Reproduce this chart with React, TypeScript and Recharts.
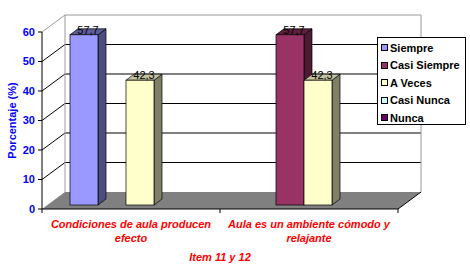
import { Bar, BarChart, CartesianGrid, XAxis, YAxis } from 'recharts';

const categories = ['Condiciones de aula producen efecto', 'Aula es un ambiente cómodo y relajante'];
const seriesNames = ['Siempre', 'Casi Siempre', 'A Veces', 'Casi Nunca', 'Nunca'];
const siempre = [57.7, 0];
const casiSiempre = [0, 57.7];
const aVeces = [42.3, 42.3];
const casiNunca = [0, 0];
const nunca = [0, 0];
const yTicks = [0, 10, 20, 30, 40, 50, 60];
const xTitle = 'Item 11 y 12';
const yTitle = 'Porcentaje (%)';

const seriesValues = [siempre, casiSiempre, aVeces, casiNunca, nunca];
const seriesKeys = ['siempre', 'casiSiempre', 'aVeces', 'casiNunca', 'nunca'];

const data = categories.map((name, i) => {
  const row: Record<string, any> = { name };
  seriesKeys.forEach((k, j) => {
    row[k] = seriesValues[j][i];
  });
  return row;
});

const colors = [
  { front: '#9999ff', side: '#4d4d80', top: '#5c5c99' },
  { front: '#993366', side: '#4d1a33', top: '#5c1f3d' },
  { front: '#ffffcc', side: '#808066', top: '#c4c4a0' },
  { front: '#ccffff', side: '#668080', top: '#99bfbf' },
  { front: '#660066', side: '#330033', top: '#3d003d' },
];

const FONT = 'Arial, "Liberation Sans", sans-serif';
const WALL_DX = 23;
const WALL_DY = -17;
const BAR_DX = 8;
const BAR_DY = -6;
const SHIFT_X = 8;
const SHIFT_Y = -4;

function Box3D(props: any) {
  const { x, y, width, height, dataKey, payload, c } = props;
  if (!height || height <= 0) return null;
  const v = payload ? payload[dataKey] : props.value;
  const x0 = x + SHIFT_X;
  const y0 = y + SHIFT_Y;
  const x1 = x0 + width;
  const y1 = y0 + height;
  return (
    <g>
      <polygon
        points={`${x1},${y0} ${x1 + BAR_DX},${y0 + BAR_DY} ${x1 + BAR_DX},${y1 + BAR_DY} ${x1},${y1}`}
        fill={c.side}
        stroke="#000"
        strokeWidth={0.7}
      />
      <polygon
        points={`${x0},${y0} ${x0 + BAR_DX},${y0 + BAR_DY} ${x1 + BAR_DX},${y0 + BAR_DY} ${x1},${y0}`}
        fill={c.top}
        stroke="#000"
        strokeWidth={0.7}
      />
      <rect x={x0} y={y0} width={width} height={height} fill={c.front} stroke="#000" strokeWidth={0.7} />
      <text
        x={x0 + width / 2 + 4}
        y={y0 - 1}
        textAnchor="middle"
        fontFamily={FONT}
        fontSize={11}
        fill="#000"
      >
        {String(v).replace('.', ',')}
      </text>
    </g>
  );
}

function gridLine(p: any) {
  const { x1, x2, y1 } = p;
  const top = typeof p.y === 'number' ? p.y : 32;
  const bottom = top + (typeof p.height === 'number' ? p.height : 177);
  const bx1 = x1 + WALL_DX;
  const bx2 = x2 + WALL_DX;
  const by = y1 + WALL_DY;
  if (Math.abs(y1 - bottom) < 1) {
    return (
      <g key={p.key}>
        <polygon points={`${x1},${y1} ${x2},${y1} ${bx2},${by} ${bx1},${by}`} fill="#808080" />
        <line x1={x2} y1={y1} x2={bx2} y2={by} stroke="#000" />
      </g>
    );
  }
  const isTop = Math.abs(y1 - top) < 1;
  const stroke = isTop ? '#9a9a9a' : '#000';
  return (
    <g key={p.key}>
      <line x1={x1} y1={y1} x2={bx1} y2={by} stroke={stroke} />
      <line x1={bx1} y1={by} x2={bx2} y2={by} stroke={stroke} />
      {isTop && (
        <>
          <line x1={bx1} y1={by} x2={bx1} y2={bottom + WALL_DY} stroke="#9a9a9a" />
          <line x1={bx2} y1={by} x2={bx2} y2={bottom + WALL_DY} stroke="#9a9a9a" />
        </>
      )}
    </g>
  );
}

function wrap(text: string, max: number) {
  const lines: string[] = [];
  let cur = '';
  text.split(' ').forEach((w) => {
    if (cur && (cur + ' ' + w).length > max) {
      lines.push(cur);
      cur = w;
    } else {
      cur = cur ? cur + ' ' + w : w;
    }
  });
  if (cur) lines.push(cur);
  return lines;
}

function CategoryTick(props: any) {
  const { x, y, payload, index } = props;
  const half = payload && typeof payload.offset === 'number' ? payload.offset : 89;
  const lines = wrap(String(payload.value), 28);
  return (
    <g>
      <line x1={x - half} y1={y} x2={x - half} y2={y + 4} stroke="#000" />
      {index === categories.length - 1 && <line x1={x + half} y1={y} x2={x + half} y2={y + 4} stroke="#000" />}
      <text
        x={x}
        y={y + 19}
        textAnchor="middle"
        fontFamily={FONT}
        fontSize={11}
        fontStyle="italic"
        fontWeight="bold"
        fill="#ff0000"
      >
        {lines.map((l, i) => (
          <tspan key={i} x={x} dy={i === 0 ? 0 : 14}>
            {l}
          </tspan>
        ))}
      </text>
    </g>
  );
}

export default function App() {
  return (
    <div style={{ position: 'absolute', left: 0, top: 0, width: 470, height: 272, background: '#fff' }}>
      <BarChart
        width={470}
        height={272}
        data={data}
        margin={{ top: 32, right: 72, left: 0, bottom: 0 }}
        barCategoryGap={20}
        barGap={0}
      >
        <CartesianGrid vertical={false} horizontal={gridLine} />
        <XAxis
          dataKey="name"
          height={63}
          interval={0}
          tickLine={false}
          tickSize={0}
          tickMargin={0}
          axisLine={{ stroke: '#000' }}
          tick={<CategoryTick />}
          label={{
            value: xTitle,
            position: 'insideBottom',
            offset: 11,
            fill: '#ff0000',
            fontSize: 11,
            fontStyle: 'italic',
            fontWeight: 'bold',
            fontFamily: FONT,
          }}
        />
        <YAxis
          domain={[0, 60]}
          ticks={yTicks}
          width={42}
          tickSize={4}
          tickMargin={3}
          axisLine={{ stroke: '#000' }}
          tickLine={{ stroke: '#000' }}
          tick={{ fill: '#0000ff', fontSize: 11, fontWeight: 'bold', fontFamily: FONT }}
          label={{
            value: yTitle,
            angle: -90,
            position: 'insideLeft',
            offset: 12,
            fill: '#0000ff',
            fontSize: 11,
            fontWeight: 'bold',
            fontFamily: FONT,
            style: { textAnchor: 'middle' },
          }}
        />
        {seriesKeys.map((k, i) => (
          <Bar
            key={k}
            dataKey={k}
            name={seriesNames[i]}
            isAnimationActive={false}
            shape={(p: any) => <Box3D {...p} dataKey={k} c={colors[i]} />}
          />
        ))}
      </BarChart>
      <div
        style={{
          position: 'absolute',
          left: 377,
          top: 37,
          width: 89,
          height: 88,
          border: '1px solid #000',
          background: '#fff',
          boxSizing: 'border-box',
          paddingTop: 1,
          fontFamily: FONT,
          fontSize: 11,
          fontWeight: 'bold',
          color: '#000',
        }}
      >
        {seriesNames.map((n, i) => (
          <div key={n} style={{ display: 'flex', alignItems: 'center', height: 17.5, paddingLeft: 3 }}>
            <span
              style={{
                display: 'inline-block',
                width: 5,
                height: 5,
                border: '1px solid #000',
                background: colors[i].front,
                marginRight: 2,
              }}
            />
            <span>{n}</span>
          </div>
        ))}
      </div>
    </div>
  );
}
